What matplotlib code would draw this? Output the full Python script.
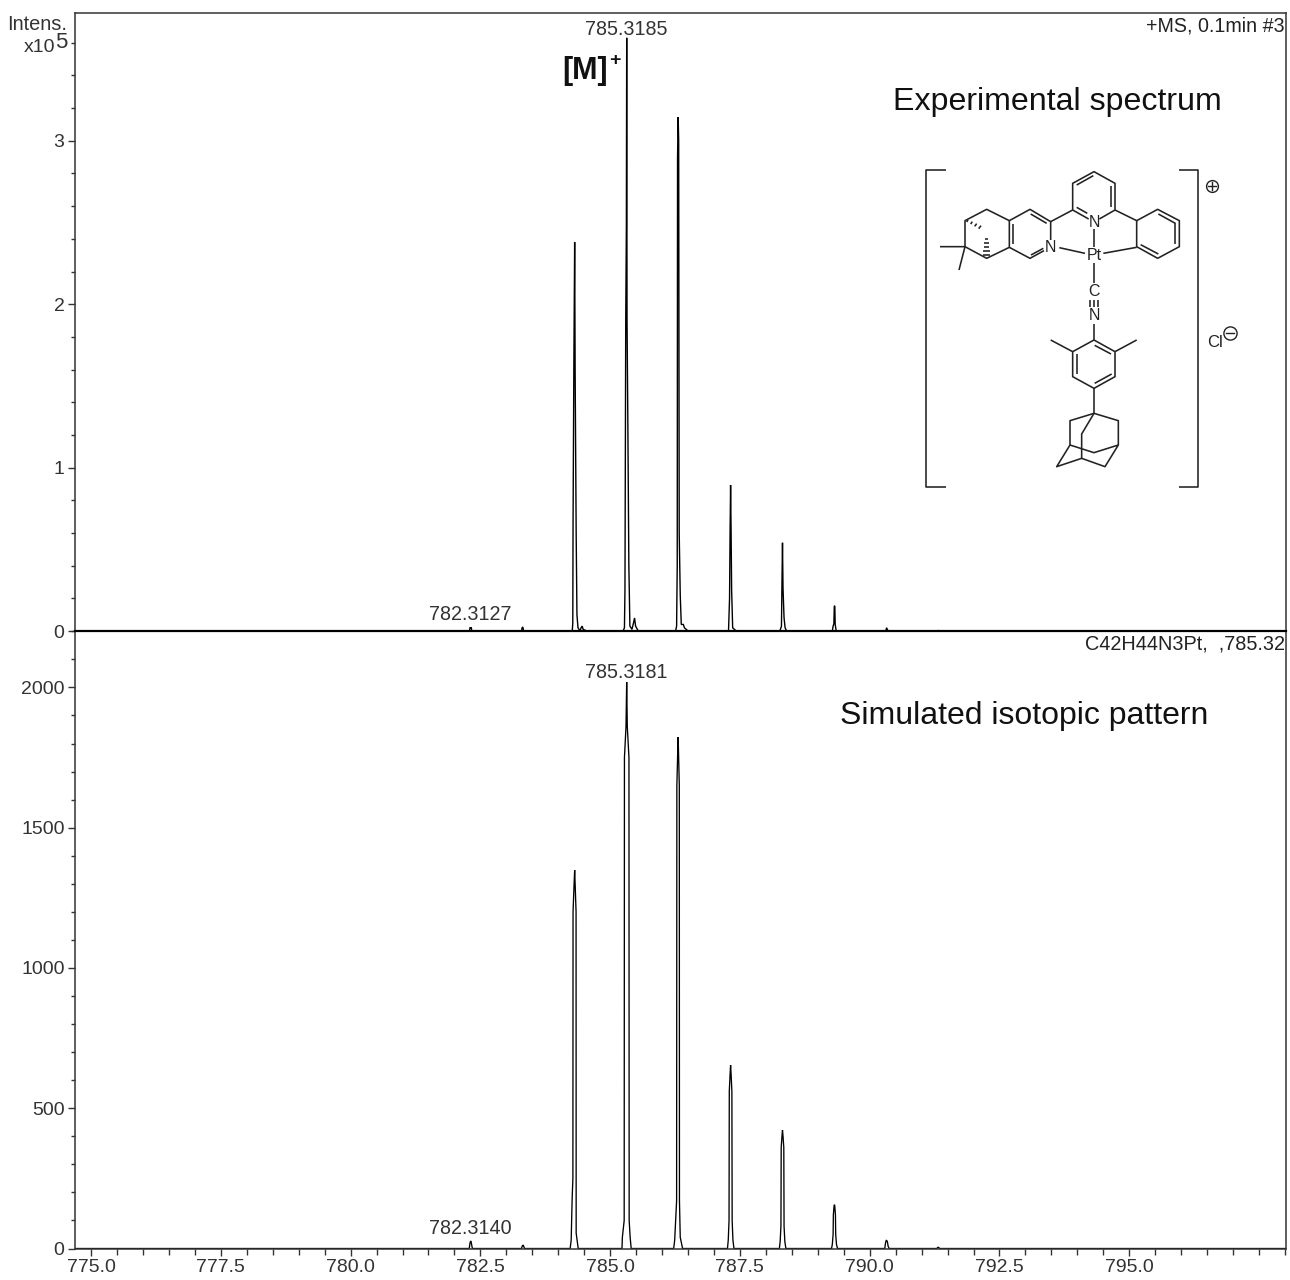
import matplotlib
matplotlib.use('Agg')
import matplotlib.pyplot as plt
from matplotlib.ticker import MultipleLocator

plt.rcParams['font.family'] = ['Liberation Sans', 'DejaVu Sans']

GRIS = '#333333'
W, H = 1290, 1280

# Experimental spectrum (m/z, intensity in 1e5)
mz_exp = [774.7, 782.29, 782.30, 782.3127, 782.325, 782.335,
          783.29, 783.305, 783.315, 783.335,
          784.27, 784.28, 784.285, 784.30, 784.316, 784.325, 784.345, 784.36, 784.38,
          784.42, 784.44, 784.46, 784.48, 784.55,
          785.25, 785.275, 785.285, 785.30, 785.312, 785.3185, 785.325, 785.34, 785.36, 785.38, 785.42,
          785.45, 785.47, 785.49, 785.54,
          786.26, 786.28, 786.292, 786.298, 786.31, 786.32, 786.33, 786.35, 786.37,
          786.41, 786.43, 786.5,
          787.28, 787.30, 787.31, 787.32, 787.33, 787.34, 787.36, 787.41, 787.44,
          788.27, 788.30, 788.31, 788.32, 788.33, 788.35, 788.37, 788.40,
          789.28, 789.295, 789.31, 789.318, 789.328, 789.335, 789.355,
          790.31, 790.325, 790.345, 790.36,
          791.31, 791.325, 791.34, 798.02]
int_exp = [0, 0, 0.02, 0.02, 0.02, 0,
           0, 0.02, 0.025, 0,
           0, 0.05, 0.65, 1.6, 2.38, 1.6, 0.6, 0.1, 0.02,
           0.0, 0.02, 0.03, 0.01, 0,
           0, 0.02, 0.25, 1.9, 2.47, 3.63, 1.9, 1.3, 0.4, 0.03, 0.01,
           0.05, 0.08, 0.03, 0,
           0, 0.03, 0.4, 2.9, 3.145, 3.0, 0.6, 0.22, 0.04,
           0.04, 0.02, 0,
           0, 0.2, 0.6, 0.893, 0.6, 0.25, 0.02, 0.005, 0,
           0, 0.03, 0.3, 0.54, 0.26, 0.08, 0.02, 0,
           0, 0.03, 0.045, 0.153, 0.153, 0.04, 0,
           0, 0.02, 0.006, 0,
           0, 0.003, 0, 0]

# Simulated pattern (m/z, intensity)
mz_sim = [774.7, 782.285, 782.30, 782.3140, 782.325, 782.345,
          783.29, 783.31, 783.325, 783.35,
          784.229, 784.249, 784.268, 784.282, 784.285, 784.305, 784.316, 784.325, 784.343, 784.345, 784.384,
          785.228, 785.235, 785.27, 785.275, 785.305, 785.3181, 785.33, 785.362, 785.366, 785.385, 785.405,
          786.224, 786.243, 786.28, 786.285, 786.30, 786.31, 786.318, 786.332, 786.335, 786.35, 786.395,
          787.26, 787.275, 787.29, 787.295, 787.31, 787.32, 787.33, 787.345, 787.35, 787.365, 787.385,
          788.26, 788.275, 788.29, 788.295, 788.31, 788.32, 788.33, 788.345, 788.35, 788.365, 788.385,
          789.265, 789.28, 789.295, 789.30, 789.315, 789.325, 789.34, 789.345, 789.36, 789.38,
          790.29, 790.305, 790.32, 790.34, 790.355, 790.375,
          791.29, 791.32, 791.35, 798.02]
int_sim = [0, 0, 20, 27, 20, 0,
           0, 10, 12, 0,
           0, 30, 180, 250, 1200, 1300, 1349, 1300, 1200, 55, 0,
           0, 40, 100, 1750, 1860, 2019, 1860, 1750, 100, 40, 0,
           0, 30, 170, 1650, 1760, 1823, 1760, 1650, 170, 40, 0,
           0, 30, 100, 560, 620, 654, 620, 560, 100, 30, 0,
           0, 25, 80, 360, 400, 422, 400, 360, 80, 25, 0,
           0, 15, 50, 120, 155, 155, 120, 50, 15, 0,
           0, 20, 30, 25, 8, 0,
           0, 5, 0, 0]

xticks = [775.0, 777.5, 780.0, 782.5, 785.0, 787.5, 790.0, 792.5, 795.0]

# Molecule drawn as bond polylines, in coordinates of the drawing box
enlaces = [
    # brackets
    [(138, 60), (78, 60), (78, 1010), (138, 1010)],
    [(836, 60), (894, 60), (894, 1010), (836, 1010)],
    # central pyridine
    [(566, 207), (518, 180), (518, 100), (582, 65), (645, 100), (645, 180), (598, 207)],
    [(530, 105), (580, 77)], [(634, 108), (634, 172)], [(530, 172), (562, 190)],
    [(582, 238), (582, 290)],
    # phenyl
    [(645, 180), (710, 212)],
    [(710, 212), (773, 178), (838, 212), (838, 290), (773, 325), (710, 290), (710, 212)],
    [(775, 192), (826, 220)], [(826, 220), (826, 282)], [(775, 312), (722, 284)],
    [(610, 310), (710, 292)], [(478, 293), (555, 310)],
    # left pyridine
    [(452, 270), (452, 215), (390, 178), (328, 212), (328, 292), (390, 325), (432, 302)],
    [(440, 220), (392, 192)], [(340, 222), (340, 282)], [(393, 315), (430, 295)],
    [(452, 215), (518, 180)],
    # pinene part
    [(328, 212), (260, 178), (195, 212), (195, 290), (260, 325), (328, 292)],
    [(120, 290), (195, 290), (177, 360)],
    # isocyanide
    [(582, 340), (582, 400)],
    [(570, 450), (570, 472)], [(582, 450), (582, 472)], [(594, 450), (594, 472)],
    [(582, 522), (582, 570)],
    # aryl
    [(582, 570), (645, 605), (645, 680), (582, 715), (518, 680), (518, 605), (582, 570)],
    [(584, 586), (633, 612)], [(530, 612), (530, 672)], [(584, 700), (635, 672)],
    [(518, 605), (452, 570)], [(645, 605), (710, 570)],
    [(582, 715), (582, 790)],
    # adamantane
    [(510, 885), (510, 812), (582, 790), (655, 812), (655, 885)],
    [(582, 790), (545, 852), (545, 925)],
    [(510, 885), (470, 950), (545, 925), (615, 950), (655, 885), (582, 908), (510, 885)],
]
# hashed bonds of the bridge
rayas = [[(200, 216), (204, 210)], [(212, 222), (217, 215)], [(224, 229), (230, 221)], [(236, 236), (243, 227)],
         [(255, 268), (265, 268)], [(253, 280), (267, 280)], [(252, 292), (268, 292)], [(250, 304), (270, 304)], [(249, 316), (271, 316)]]
atomos = [('N', 582, 218), ('N', 452, 292), ('Pt', 582, 315), ('C', 582, 425), ('N', 582, 497)]

fig = plt.figure(figsize=(W / 100, H / 100), dpi=100)

def ejes(y_arriba, y_abajo):
    ax = fig.add_axes([75 / W, 1 - y_abajo / H, (1286 - 75) / W, (y_abajo - y_arriba) / H])
    for s in ax.spines.values():
        s.set_color(GRIS)
        s.set_linewidth(1.1)
    ax.set_xlim(774.69, 798.02)
    return ax

# Bottom panel first, so that the top panel baseline stays above it
ax2 = ejes(631, 1248.5)
ax2.plot(mz_sim, int_sim, color='black', lw=0.95, solid_joinstyle='miter')
ax2.set_ylim(0, 2201)
ax2.set_yticks([0, 500, 1000, 1500, 2000])
ax2.yaxis.set_minor_locator(MultipleLocator(100))
ax2.set_xticks(xticks)
ax2.set_xticklabels(['%.1f' % t for t in xticks])
ax2.xaxis.set_minor_locator(MultipleLocator(0.5))
ax2.spines['top'].set_visible(False)
ax2.tick_params(axis='y', which='major', length=5, width=1, color=GRIS, labelsize=14, labelcolor=GRIS, pad=2.5)
ax2.tick_params(axis='y', which='minor', length=3, width=1, color=GRIS)
ax2.tick_params(axis='x', which='major', length=5, width=1, color=GRIS, labelsize=14, labelcolor=GRIS, pad=2.5)
ax2.tick_params(axis='x', which='minor', length=4, width=1, color=GRIS)
ax2.annotate('785.3181', xy=(785.3181, 2019), xytext=(0, 0.4), textcoords='offset points',
             ha='center', va='bottom', fontsize=14.2, color=GRIS)
ax2.annotate('782.3140', xy=(782.3140, 27), xytext=(0, 1.8), textcoords='offset points',
             ha='center', va='bottom', fontsize=14.2, color=GRIS)

# Top panel
ax1 = ejes(13, 631)
ax1.patch.set_alpha(0)
ax1.plot(mz_exp, int_exp, color='black', lw=1.0, solid_joinstyle='miter')
ax1.set_ylim(0, 3.782)
ax1.set_yticks([0, 1, 2, 3])
ax1.yaxis.set_minor_locator(MultipleLocator(0.2))
ax1.set_xticks([])
ax1.spines['bottom'].set_color('black')
ax1.spines['bottom'].set_linewidth(1.6)
ax1.tick_params(axis='y', which='major', length=5, width=1, color=GRIS, labelsize=14, labelcolor=GRIS, pad=2.5)
ax1.tick_params(axis='y', which='minor', length=3, width=1, color=GRIS)
ax1.annotate('785.3185', xy=(785.3185, 3.63), xytext=(0, -1), textcoords='offset points',
             ha='center', va='bottom', fontsize=14.2, color=GRIS)
ax1.annotate('782.3127', xy=(782.3127, 0.02), xytext=(0, 2.5), textcoords='offset points',
             ha='center', va='bottom', fontsize=14.2, color=GRIS)

# Overlay in pixel units for the free text and the molecule
capa = fig.add_axes([0, 0, 1, 1])
capa.set_xlim(0, W)
capa.set_ylim(H, 0)
capa.axis('off')
capa.patch.set_alpha(0)

capa.text(67, 24, 'Intens.', ha='right', va='center', fontsize=14.4, color=GRIS)
capa.text(55, 48, 'x10', ha='right', va='center', fontsize=14, color=GRIS)
capa.text(55, 42, '5', ha='left', va='center', fontsize=16, color=GRIS)
capa.text(1285, 26, '+MS, 0.1min #3', ha='right', va='center', fontsize=14.1, color='#222222')
capa.text(1285, 644, 'C42H44N3Pt,  ,785.32', ha='right', va='center', fontsize=14.3, color='#222222')
capa.text(1057, 102, 'Experimental spectrum', ha='center', va='center', fontsize=23.1, color='#111111')
capa.text(1024.5, 716, 'Simulated isotopic pattern', ha='center', va='center', fontsize=23, color='#111111')
capa.text(562, 71, '[M]', ha='left', va='center', fontsize=22, fontweight='bold', color='#111111')
capa.text(615, 60, '+', ha='center', va='center', fontsize=14, fontweight='bold', color='#111111')

def px(zx, zy):
    return 900 + zx / 3, 150 + zy / 3

for linea in enlaces + rayas:
    xs = [px(*p)[0] for p in linea]
    ys = [px(*p)[1] for p in linea]
    capa.plot(xs, ys, color='#222222', lw=1.15, solid_capstyle='butt')
for txt, zx, zy in atomos:
    x, y = px(zx, zy)
    capa.text(x, y, txt, ha='center', va='center', fontsize=11.5, color='#222222')

x, y = px(945, 578)
capa.text(x, y, 'Cl', ha='center', va='center', fontsize=12, color='#222222')
for zx, zy, signo, tam in [(935, 108, '+', 8.5), (990, 550, '-', 9.5)]:
    x, y = px(zx, zy)
    capa.plot([x], [y], 'o', ms=tam, mfc='none', mec='#222222', mew=1.0)
    capa.plot([x - 4, x + 4], [y, y], color='#222222', lw=1.0)
    if signo == '+':
        capa.plot([x, x], [y - 4, y + 4], color='#222222', lw=1.0)

fig.savefig('out.png', dpi=100)
